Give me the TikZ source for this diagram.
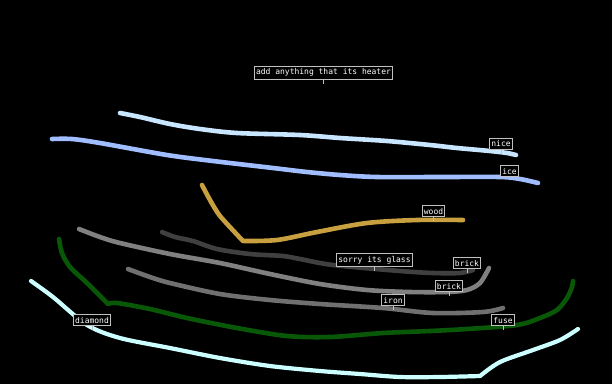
\documentclass[tikz,border=0pt]{standalone}
\usepackage{fontspec}
\setmonofont{DejaVu Sans Mono}
\begin{document}
\begin{tikzpicture}[x=1pt,y=-1pt,
  stroke/.style={line width=4.6pt,line cap=round,line join=round},
  lbl/.style={draw={rgb,255:red,192;green,192;blue,192},fill=black,text=white,
    font=\ttfamily\fontsize{8}{9}\selectfont,inner xsep=1.6pt,inner ysep=2.4pt,line width=0.9pt,anchor=south},
  tick/.style={draw={rgb,255:red,192;green,192;blue,192},line width=0.8pt}]
\definecolor{skyA}{RGB}{200,230,255}
\definecolor{skyB}{RGB}{160,190,255}
\definecolor{goldw}{RGB}{200,160,64}
\definecolor{gdark}{RGB}{64,64,64}
\definecolor{gmid}{RGB}{128,128,128}
\definecolor{giron}{RGB}{112,112,112}
\definecolor{grn}{RGB}{8,88,8}
\definecolor{cyn}{RGB}{204,255,255}
\fill[black] (0,0) rectangle (612,384);
\useasboundingbox (0,0) rectangle (612,384);
% strokes
\draw[stroke,skyA] plot[smooth,tension=0.5] coordinates {(120,113) (140,117) (170,124) (200,129) (237,133) (300,135) (340,138) (387,141) (430,145) (457,148) (490,151) (507,153) (516,155)};
\draw[stroke,skyB] plot[smooth,tension=0.5] coordinates {(52,139) (72,139) (100,143) (167,155) (213,161) (273,168) (307,172) (340,175) (377,177) (440,177) (500,177) (520,179) (538,183)};
\draw[stroke,goldw] plot[smooth,tension=0.4] coordinates {(202,185) (210,200) (220,216) (243,241)} -- plot[smooth,tension=0.5] coordinates {(243,241) (277,240) (317,232) (367,223) (417,220) (463,220)};
\draw[stroke,gdark] plot[smooth,tension=0.5] coordinates {(162,232) (175,237) (193,241) (217,249) (250,254) (283,256) (300,259) (333,265) (400,271) (433,273) (460,273) (473,270)};
\draw[stroke,gmid] plot[smooth,tension=0.5] coordinates {(79,229) (100,237) (120,243) (170,254) (220,263) (270,274) (320,284) (367,290) (410,292) (447,292) (467,290) (480,283) (489,268)};
\draw[stroke,giron] plot[smooth,tension=0.5] coordinates {(128,269) (150,277) (170,283) (220,294) (270,300) (320,304) (383,308) (433,313) (483,312) (503,308)};
\draw[stroke,grn] plot[smooth,tension=0.5] coordinates {(59,239) (62,253) (70,267) (87,283) (108,304)} -- plot[smooth,tension=0.5] coordinates {(108,304) (117,303) (150,309) (187,318) (237,328) (287,336) (330,337) (383,333) (430,331) (467,329) (517,325) (540,318) (557,310) (567,298) (572,287) (573,281)};
\draw[stroke,cyn,line width=4.2pt] plot[smooth,tension=0.5] coordinates {(31,281) (53,297) (87,325) (120,338) (170,348) (220,358) (270,366) (320,371) (360,374) (400,377) (440,377) (480,376)} -- plot[smooth,tension=0.5] coordinates {(480,376) (500,362) (533,350) (560,340) (578,329)};
% labels
\node[lbl] (heater) at (323.5,79.5) {add anything that its heater};
\draw[tick] (heater.south) -- ++(0,4.5);
\node[lbl] (nice) at (501,149.5) {nice};
\draw[tick] (nice.south) -- ++(0,4);
\node[lbl] (ice) at (509.5,177) {ice};
\node[lbl] (wood) at (433.5,217) {wood};
\draw[tick] (wood.south) -- ++(0,4);
\node[lbl] (glass) at (374.5,267) {sorry its glass};
\draw[tick] (glass.south) -- ++(0,4);
\node[lbl] (brickA) at (467,269) {brick};
\draw[tick] (brickA.south) -- ++(0,4);
\node[lbl] (brickB) at (449,292) {brick};
\draw[tick] (brickB.south) -- ++(0,4);
\node[lbl] (iron) at (393,306) {iron};
\draw[tick] (iron.south) -- ++(0,4);
\node[lbl] (fuse) at (503,326) {fuse};
\draw[tick] (fuse.south) -- ++(0,4);
\node[lbl] (diamond) at (92,326) {diamond};
\draw[tick] (diamond.south) -- ++(0,4);
\end{tikzpicture}
\end{document}
